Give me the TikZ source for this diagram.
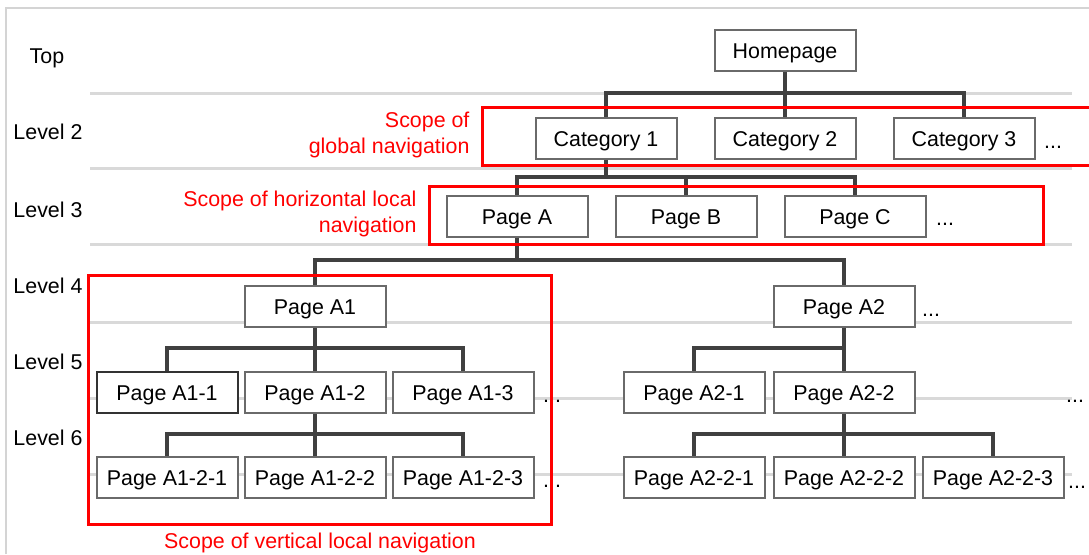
\documentclass[tikz,border=0pt]{standalone}
\usepackage{fontspec}
\setmainfont{Liberation Sans}
\definecolor{boxc}{HTML}{6A6A6A}
\definecolor{boxdark}{HTML}{333333}
\definecolor{linec}{HTML}{404040}
\definecolor{levc}{HTML}{D9D9D9}
\definecolor{framec}{HTML}{D4D4D4}
\definecolor{scopered}{HTML}{FF0000}
\begin{document}
\begin{tikzpicture}[x=1pt,y=-1pt,
  font=\fontsize{21.4}{26}\selectfont,
  pg/.style={draw=boxc, line width=2pt, fill=white, minimum width=141pt, minimum height=41pt, inner sep=0pt, text height=16pt, text depth=0pt},
  conn/.style={draw=linec, line width=3.2pt},
  lvl/.style={draw=levc, line width=3pt},
  scopebox/.style={draw=scopered, line width=3pt},
  redtxt/.style={text=scopered, align=right},
  dots/.style={anchor=base west, inner sep=0pt},
  lvllab/.style={anchor=base}
]
\useasboundingbox (0,0) rectangle (1089,554);
\fill[white] (0,0) rectangle (1089,554);
\draw[framec, line width=1.5pt] (6,554) -- (6,8) -- (1089,8);

% level lines
\foreach \yy in {93,168,244,322,398,474} \draw[lvl] (90,\yy) -- (1072,\yy);

% level labels
\node[lvllab] (ltop) at (47,63) {Top};
\node[lvllab] (l2) at (48,139) {Level 2};
\node[lvllab] (l3) at (48,217) {Level 3};
\node[lvllab] (l4) at (48,293) {Level 4};
\node[lvllab] (l5) at (48,369) {Level 5};
\node[lvllab] (l6) at (48,445) {Level 6};

% coordinates of buses
\coordinate (b1) at (785,93);
\coordinate (b2) at (606,177);
\coordinate (b3) at (517,260);
\coordinate (b4) at (315,348);
\coordinate (b5) at (844,348);
\coordinate (b6) at (315,434);
\coordinate (b7) at (844,434);

% nodes
\node[pg] (home) at (785,50) {Homepage};
\node[pg] (c1) at (606,138) {Category 1};
\node[pg] (c2) at (785,138) {Category 2};
\node[pg] (c3) at (964,138) {Category 3};
\node[pg] (pa) at (517,216) {Page A};
\node[pg] (pb) at (686,216) {Page B};
\node[pg] (pc) at (855,216) {Page C};
\node[pg] (a1) at (315,306) {Page A1};
\node[pg] (a2) at (844,306) {Page A2};
\node[pg, draw=boxdark] (a11) at (167,392) {Page A1-1};
\node[pg] (a12) at (315,392) {Page A1-2};
\node[pg] (a13) at (463,392) {Page A1-3};
\node[pg] (a21) at (694,392) {Page A2-1};
\node[pg] (a22) at (844,392) {Page A2-2};
\node[pg] (a121) at (167,477) {Page A1-2-1};
\node[pg] (a122) at (315,477) {Page A1-2-2};
\node[pg] (a123) at (463,477) {Page A1-2-3};
\node[pg] (a221) at (694,477) {Page A2-2-1};
\node[pg] (a222) at (844,477) {Page A2-2-2};
\node[pg] (a223) at (993,477) {Page A2-2-3};

% dots
\node[dots] (d1) at (1044,148) {...};
\node[dots] (d2) at (936,225) {...};
\node[dots] (d3) at (922,316) {...};
\node[dots] (d4) at (543,402) {...};
\node[dots] (d5) at (1066,402) {...};
\node[dots] (d6) at (543,487) {...};
\node[dots] (d7) at (1068,488) {...};

% connectors
\draw[conn] (home.south) -- (b1);
\draw[conn] (c1.north) |- (b1) -| (c3.north);
\draw[conn] (c2.north) -- (b1);
\draw[conn] (c1.south) -- (b2);
\draw[conn] (pa.north) |- (b2) -| (pc.north);
\draw[conn] (pb.north) -- (pb.north |- b2);
\draw[conn] (pa.south) -- (b3);
\draw[conn] (a1.north) |- (b3) -| (a2.north);
\draw[conn] (a1.south) -- (b4);
\draw[conn] (a11.north) |- (b4) -| (a13.north);
\draw[conn] (a12.north) -- (b4);
\draw[conn] (a2.south) -- (b5);
\draw[conn] (a21.north) |- (b5) -- (a22.north);
\draw[conn] (a12.south) -- (b6);
\draw[conn] (a121.north) |- (b6) -| (a123.north);
\draw[conn] (a122.north) -- (b6);
\draw[conn] (a22.south) -- (b7);
\draw[conn] (a221.north) |- (b7) -| (a223.north);
\draw[conn] (a222.north) -- (b7);

% scope boxes
\draw[scopebox] (482,107) rectangle (1096,165);
\draw[scopebox] (429,186) rectangle (1043,244);
\draw[scopebox] (88,275) rectangle (551,524);

% scope labels
\node[redtxt, anchor=east] (sg) at (473,135) {Scope of\\global navigation};
\node[redtxt, anchor=east] (sh) at (420,214) {Scope of horizontal local\\navigation};
\node[redtxt, align=center] (sv) at (320,543) {Scope of vertical local navigation};
\end{tikzpicture}
\end{document}
